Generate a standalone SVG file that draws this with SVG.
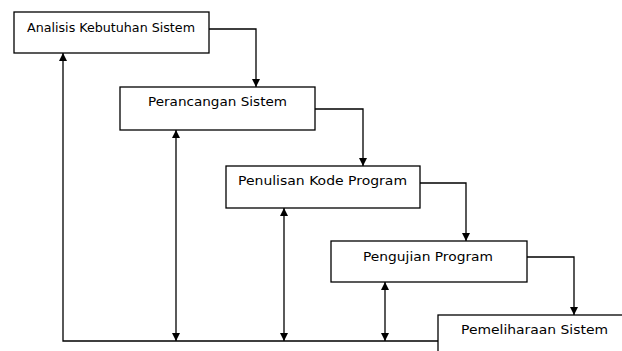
<svg xmlns="http://www.w3.org/2000/svg" width="622" height="351" viewBox="0 0 622 351">
<style>
.box{fill:#fff;stroke:#000;stroke-width:1.3}
.lbl{font-family:"DejaVu Sans","Verdana",sans-serif;font-size:12px;fill:#000;text-anchor:middle}
.ln{fill:none;stroke:#000;stroke-width:1.3}
</style>
<defs>
<marker id="ah" viewBox="0 0 10 10" refX="10" refY="5" markerWidth="8" markerHeight="8" markerUnits="userSpaceOnUse" orient="auto-start-reverse">
<path d="M0,0 L10,5 L0,10 z" fill="#000"/>
</marker>
</defs>
<g id="connectors">
<polyline class="ln" points="209,29 256,29 256,87" marker-end="url(#ah)"/>
<polyline class="ln" points="315,109 363,109 363,166" marker-end="url(#ah)"/>
<polyline class="ln" points="420,183 466,183 466,241" marker-end="url(#ah)"/>
<polyline class="ln" points="527,257 574,257 574,315" marker-end="url(#ah)"/>
<polyline class="ln" points="438,341 63,341 63,53" marker-end="url(#ah)"/>
<line class="ln" x1="176" y1="130" x2="176" y2="341" marker-start="url(#ah)" marker-end="url(#ah)"/>
<line class="ln" x1="284" y1="208" x2="284" y2="341" marker-start="url(#ah)" marker-end="url(#ah)"/>
<line class="ln" x1="385" y1="282" x2="385" y2="341" marker-start="url(#ah)" marker-end="url(#ah)"/>
</g>
<g id="n1">
<rect class="box" x="14" y="12" width="195" height="41"/>
<text class="lbl" x="111" y="32" textLength="168" lengthAdjust="spacingAndGlyphs">Analisis Kebutuhan Sistem</text>
</g>
<g id="n2">
<rect class="box" x="120" y="87" width="195" height="43"/>
<text class="lbl" x="217.5" y="106" textLength="139" lengthAdjust="spacingAndGlyphs">Perancangan Sistem</text>
</g>
<g id="n3">
<rect class="box" x="226" y="166" width="194" height="42"/>
<text class="lbl" x="322.5" y="185" textLength="169" lengthAdjust="spacingAndGlyphs">Penulisan Kode Program</text>
</g>
<g id="n4">
<rect class="box" x="331" y="241" width="196" height="41"/>
<text class="lbl" x="428" y="261" textLength="130" lengthAdjust="spacingAndGlyphs">Pengujian Program</text>
</g>
<g id="n5">
<rect class="box" x="438" y="315" width="194" height="45"/>
<text class="lbl" x="534.5" y="334" textLength="147" lengthAdjust="spacingAndGlyphs">Pemeliharaan Sistem</text>
</g>
</svg>
